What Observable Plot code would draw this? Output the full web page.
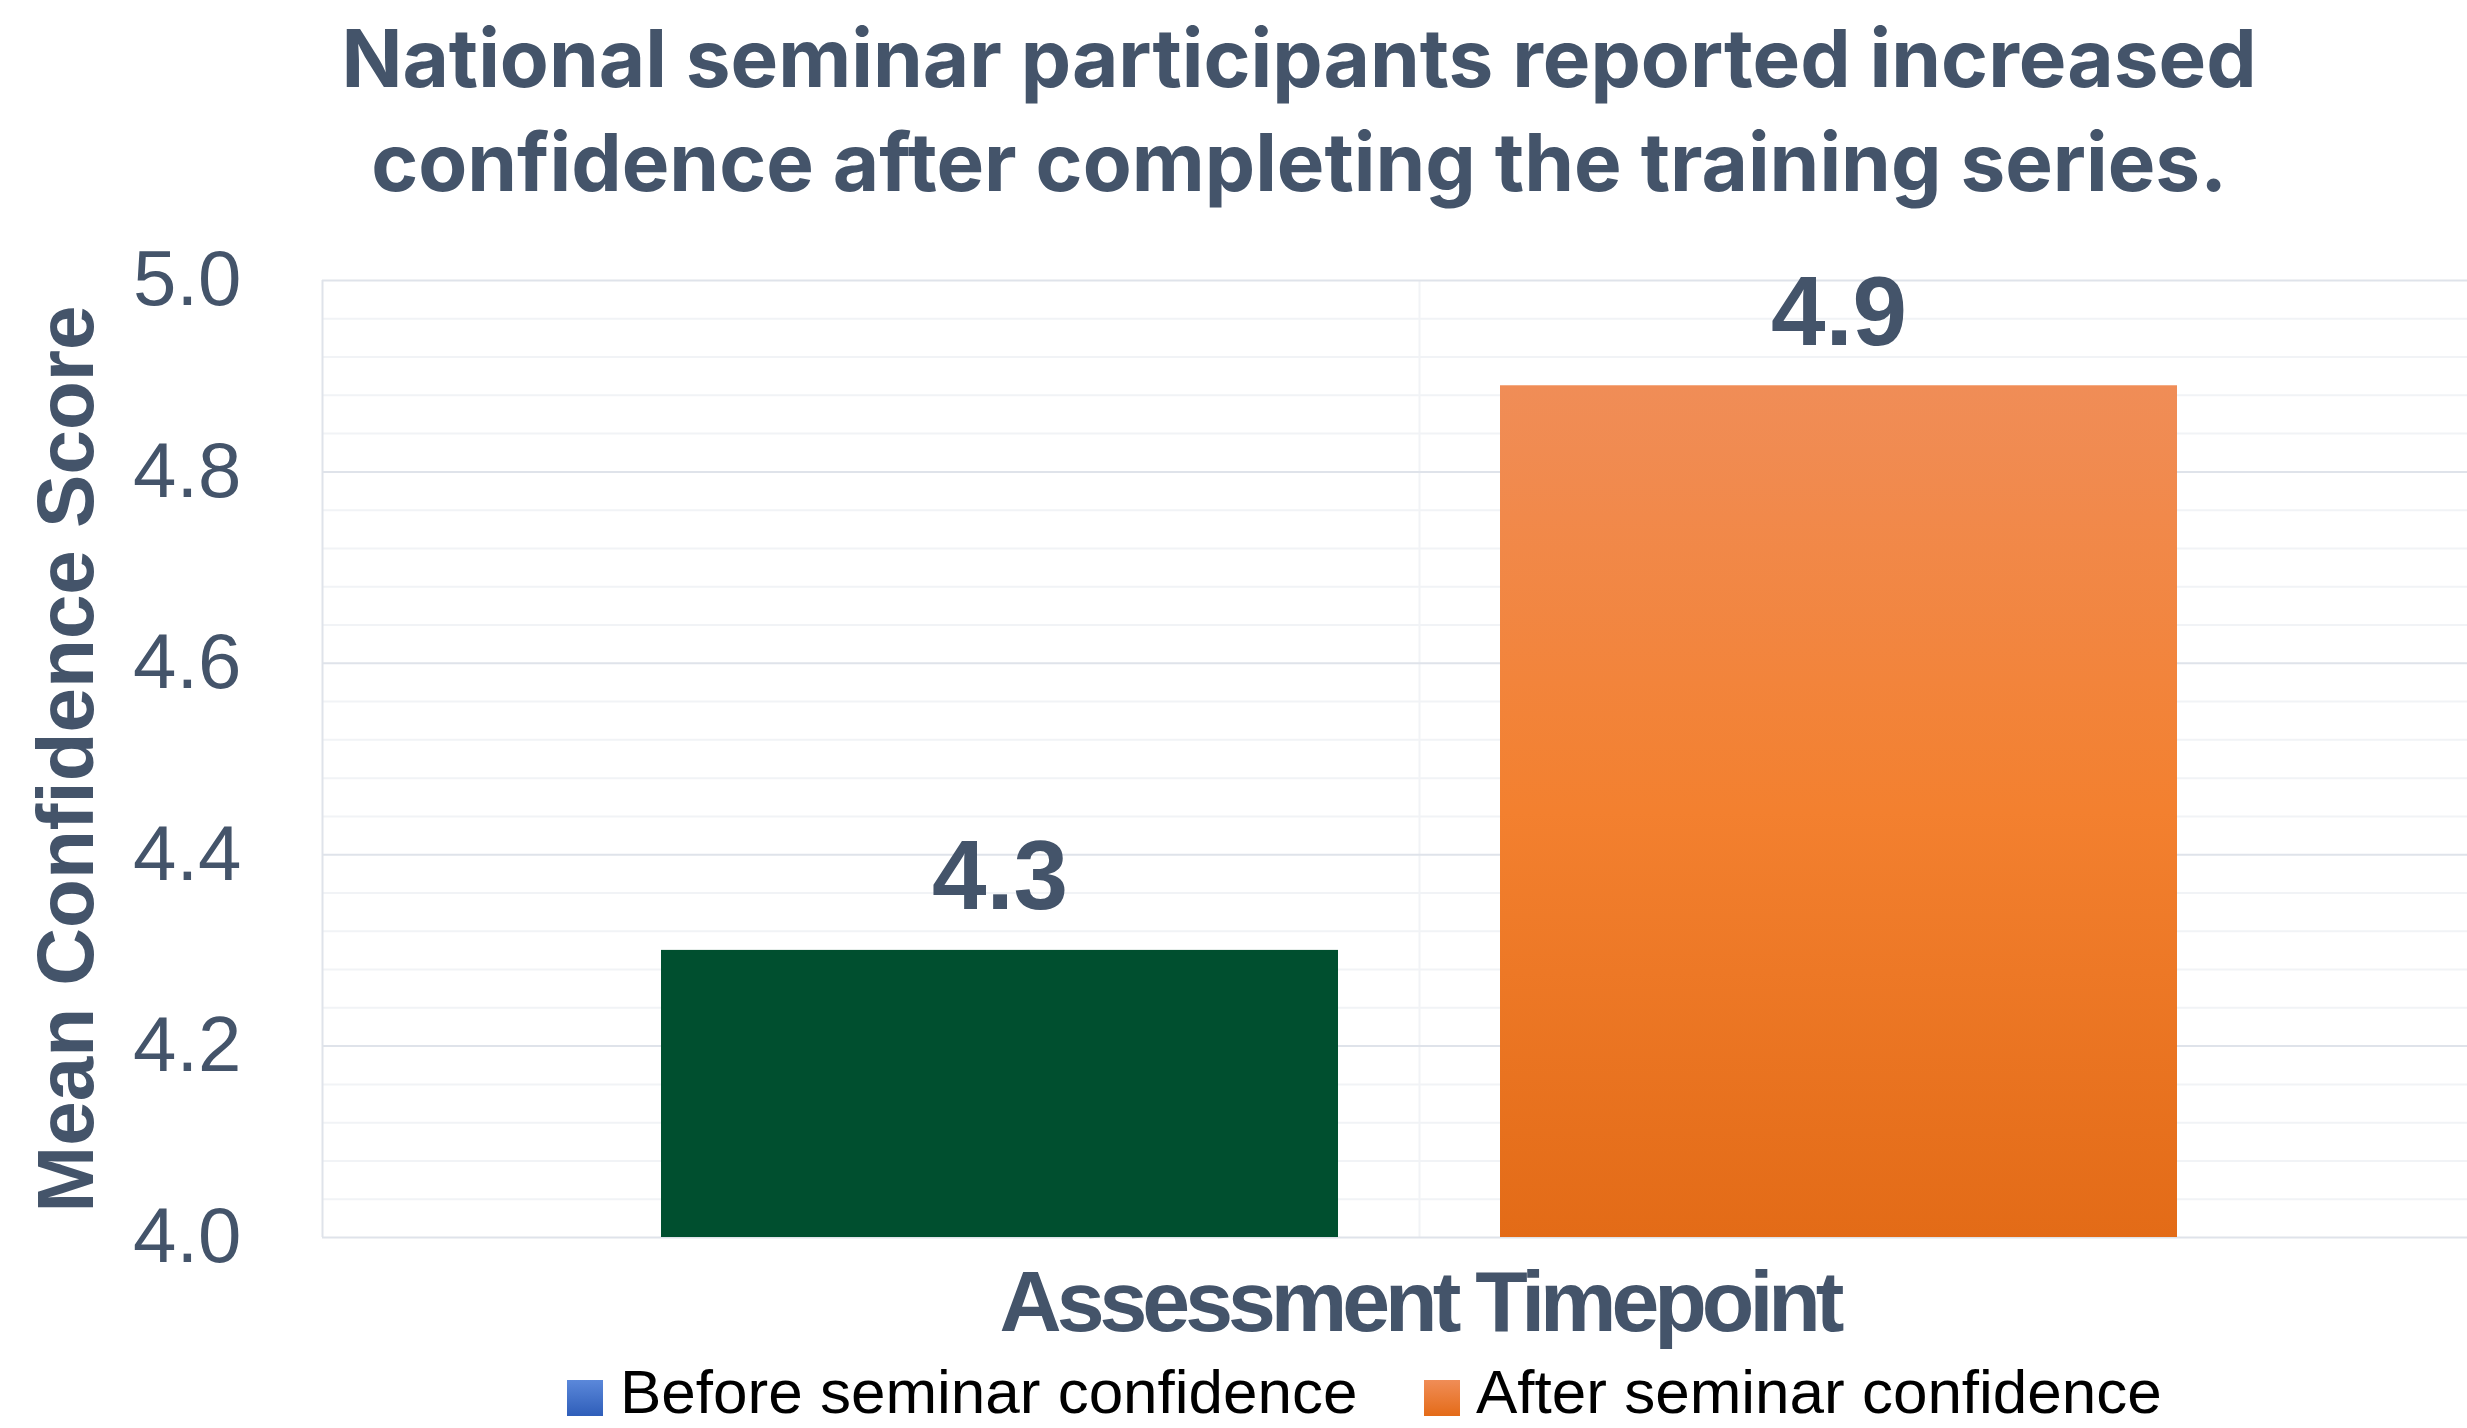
<!DOCTYPE html>
<html><head><meta charset="utf-8">
<script src="https://cdn.jsdelivr.net/npm/d3@7"></script>
<script src="https://cdn.jsdelivr.net/npm/@observablehq/plot@0.6"></script>
<style>
html,body{margin:0;padding:0;background:#fff;overflow:hidden;}
#page{position:relative;width:2467px;height:1428px;overflow:hidden;background:#fff;}
#title{position:absolute;top:6px;left:1299px;transform:translateX(-50%);white-space:nowrap;text-align:center;font-family:Inter,"Open Sans",sans-serif;font-weight:700;font-size:80px;line-height:104px;color:#44546A;}
#chart{position:absolute;top:240px;left:0;width:2516px;}
.leg{position:absolute;top:1368px;height:48px;font-family:"Liberation Sans",Arial,sans-serif;font-size:62px;line-height:48px;color:#000;white-space:nowrap;}
.sw{position:absolute;top:1380px;width:36px;height:36px;}
</style></head>
<body>
<div id="page">
  <div id="title"></div>
  <div id="chart"></div>
  <div id="legend"></div>
</div>
<script>
// ---- data ----
const titleLines = ["National seminar participants reported increased", "confidence after completing the training series."];
const category = "Assessment Timepoint";
const series = ["Before seminar confidence", "After seminar confidence"];
const values = [4.30, 4.89];
const valueLabels = ["4.3", "4.9"];
const yTitle = "Mean Confidence Score";
const yDomain = [4.0, 5.0];
const yTicks = [4.0, 4.2, 4.4, 4.6, 4.8, 5.0];
const yMinorTicks = [4.04, 4.08, 4.12, 4.16, 4.24, 4.28, 4.32, 4.36, 4.44, 4.48, 4.52, 4.56, 4.64, 4.68, 4.72, 4.76, 4.84, 4.88, 4.92, 4.96];

// ---- styles ----
const barFills = ["#004F2F", "url(#gradAfter)"];
const legendSwatches = ["linear-gradient(to bottom,#5B88DA,#2F5EB9)", "linear-gradient(to bottom,#F08D57,#E46B18)"];
const ink = "#44546A";

const data = series.map((s, i) => ({series: s, value: values[i], label: valueLabels[i], fill: barFills[i]}));

document.getElementById("title").innerHTML = titleLines.join("<br>");

const plot = Plot.plot({
  width: 2516,
  height: 1140,
  marginLeft: 322,
  marginRight: 0,
  marginTop: 40,
  marginBottom: 143,
  style: {fontFamily: "'Liberation Sans', Arial, sans-serif", color: ink, background: "transparent", overflow: "visible", maxWidth: "none"},
  x: {domain: series, paddingInner: 0.193, paddingOuter: 0.4025, axis: null},
  y: {domain: yDomain},
  marks: [
    Plot.ruleY(yMinorTicks, {stroke: "#F1F3F6", strokeWidth: 2}),
    Plot.ruleX([0], {x: null, stroke: "#F1F3F6", strokeWidth: 2}),
    Plot.ruleY(yTicks, {stroke: "#DFE3EA", strokeWidth: 2}),
    Plot.ruleX([0], {x: null, dx: -1097, stroke: "#DFE3EA", strokeWidth: 2}),
    Plot.axisY({ticks: yTicks, tickFormat: d3.format(".1f"), tickSize: 0, tickPadding: 81, fontSize: 78, label: null, fill: ink}),
    Plot.barY(data, {x: "series", y1: yDomain[0], y2: "value", fill: d => d.fill}),
    Plot.text(data, {x: "series", y: "value", text: "label", dy: -41, lineAnchor: "bottom", fontSize: 98, fontWeight: "bold", fill: ink, style: "letter-spacing:3px"}),
    Plot.text([category], {text: d => d, frameAnchor: "bottom", textAnchor: "middle", lineAnchor: "bottom", dy: 93, fontSize: 86, fontWeight: "bold", fill: ink}),
    Plot.text([yTitle], {text: d => d, frameAnchor: "left", textAnchor: "middle", lineAnchor: "middle", rotate: -90, dx: -255, fontSize: 80, fontWeight: "bold", fill: ink})
  ]
});

// gradient for the "after" bar
const svg = d3.select(plot);
const defs = svg.insert("defs", ":first-child");
const g = defs.append("linearGradient").attr("id", "gradAfter").attr("x1", 0).attr("y1", 0).attr("x2", 0).attr("y2", 1);
g.append("stop").attr("offset", "0%").attr("stop-color", "#F08D57");
g.append("stop").attr("offset", "50%").attr("stop-color", "#F3802F");
g.append("stop").attr("offset", "100%").attr("stop-color", "#E36B17");
// tight letter spacing for category label
svg.selectAll("text").filter(function(){ return this.textContent === category; }).style("letter-spacing", "-5px");

document.getElementById("chart").appendChild(plot);

// legend
const leg = document.getElementById("legend");
const swX = [567, 1424], txX = [620, 1476];
series.forEach((s, i) => {
  const sw = document.createElement("div");
  sw.className = "sw"; sw.style.left = swX[i] + "px"; sw.style.background = legendSwatches[i];
  leg.appendChild(sw);
  const t = document.createElement("div");
  t.className = "leg"; t.style.left = txX[i] + "px"; t.textContent = s;
  leg.appendChild(t);
});
</script>
</body></html>
